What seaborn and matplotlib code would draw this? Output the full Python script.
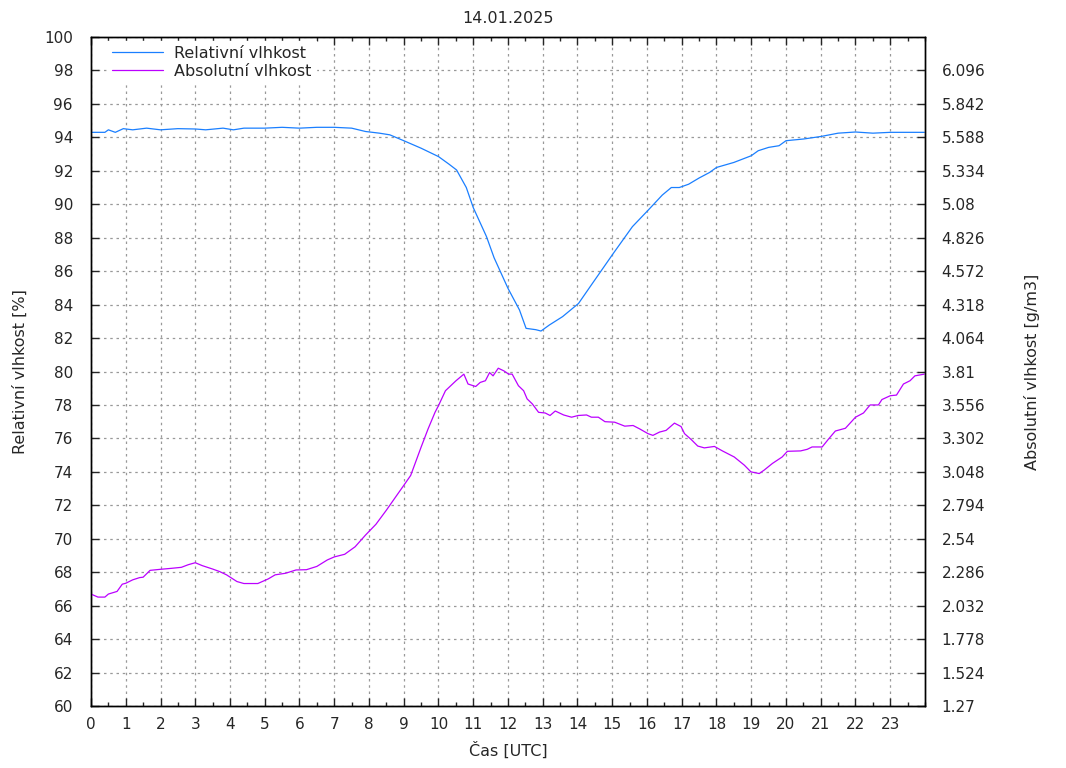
import numpy as np
import pandas as pd
import matplotlib
matplotlib.use("Agg")
import matplotlib.pyplot as plt
import seaborn as sns
from matplotlib.ticker import MultipleLocator, FixedLocator

# --- data -------------------------------------------------------------
rh_hours = [0.0, 0.4, 0.5, 0.7, 0.93, 1.2, 1.6, 2.0, 2.5, 3.0, 3.3, 3.8, 4.1, 4.4,
            5.0, 5.5, 6.0, 6.5, 7.0, 7.5, 7.9, 8.3, 8.6, 9.0, 9.5, 10.0, 10.3,
            10.52, 10.8, 11.0, 11.38, 11.6, 12.0, 12.33, 12.52, 12.8, 12.95,
            13.19, 13.57, 14.03, 14.43, 15.03, 15.58, 16.04, 16.44, 16.7, 16.93,
            17.2, 17.5, 17.8, 18.0, 18.5, 19.0, 19.2, 19.5, 19.8, 20.0, 20.5,
            21.0, 21.5, 22.0, 22.5, 23.0, 23.98]
rh_values = [94.3, 94.3, 94.45, 94.3, 94.52, 94.45, 94.55, 94.45, 94.52, 94.5,
             94.45, 94.55, 94.45, 94.55, 94.55, 94.6, 94.55, 94.6, 94.6, 94.55,
             94.35, 94.25, 94.15, 93.8, 93.35, 92.85, 92.4, 92.05, 91.0, 89.8,
             88.07, 86.8, 84.97, 83.68, 82.58, 82.5, 82.42, 82.78, 83.28, 84.07,
             85.27, 87.06, 88.66, 89.66, 90.55, 91.0, 91.0, 91.2, 91.57, 91.9,
             92.2, 92.5, 92.9, 93.2, 93.4, 93.5, 93.8, 93.9, 94.05, 94.25, 94.32,
             94.25, 94.3, 94.3]

ah_hours = [0.0, 0.2, 0.4, 0.5, 0.75, 0.9, 1.0, 1.2, 1.4, 1.5, 1.7, 2.0, 2.3, 2.6,
            2.8, 3.0, 3.2, 3.5, 3.7, 3.9, 4.2, 4.4, 4.8, 5.1, 5.3, 5.6, 5.9, 6.2,
            6.5, 6.8, 7.0, 7.3, 7.6, 7.9, 8.2, 8.5, 8.8, 9.0, 9.2, 9.5, 9.7, 9.9,
            10.0, 10.2, 10.5, 10.73, 10.85, 11.07, 11.2, 11.35, 11.47, 11.57,
            11.72, 11.88, 12.02, 12.12, 12.3, 12.45, 12.55, 12.7, 12.88, 13.07,
            13.21, 13.36, 13.6, 13.83, 14.02, 14.26, 14.4, 14.6, 14.79, 15.07,
            15.36, 15.6, 15.79, 16.03, 16.17, 16.36, 16.55, 16.79, 16.98, 17.08,
            17.27, 17.46, 17.65, 17.94, 18.17, 18.51, 18.8, 18.99, 19.23, 19.37,
            19.61, 19.89, 20.04, 20.42, 20.61, 20.75, 21.04, 21.23, 21.42, 21.71,
            22.0, 22.23, 22.42, 22.66, 22.76, 23.0, 23.18, 23.38, 23.57, 23.71,
            23.98]
# absolute humidity read on the left-axis scale (% units), converted to g/m3 below
ah_left_units = [66.69, 66.51, 66.51, 66.69, 66.85, 67.28, 67.34, 67.54, 67.68,
                 67.7, 68.11, 68.17, 68.23, 68.29, 68.45, 68.57, 68.39, 68.19,
                 68.04, 67.84, 67.44, 67.32, 67.32, 67.6, 67.84, 67.94, 68.13,
                 68.15, 68.35, 68.73, 68.91, 69.07, 69.52, 70.22, 70.87, 71.71,
                 72.6, 73.19, 73.79, 75.48, 76.57, 77.56, 77.96, 78.85, 79.44,
                 79.84, 79.25, 79.1, 79.35, 79.45, 79.94, 79.74, 80.2, 80.04,
                 79.84, 79.84, 79.15, 78.85, 78.36, 78.06, 77.56, 77.52, 77.37,
                 77.64, 77.4, 77.27, 77.37, 77.4, 77.27, 77.27, 77.0, 76.97,
                 76.73, 76.77, 76.57, 76.28, 76.18, 76.38, 76.48, 76.91, 76.71,
                 76.28, 75.94, 75.54, 75.43, 75.52, 75.25, 74.89, 74.4, 74.0,
                 73.9, 74.1, 74.5, 74.89, 75.23, 75.25, 75.35, 75.49, 75.49,
                 75.98, 76.44, 76.61, 77.27, 77.52, 78.0, 78.0, 78.32, 78.55,
                 78.59, 79.25, 79.45, 79.74, 79.84]
ah_values = [round(0.127 * v - 6.35, 3) for v in ah_left_units]

x_ticks = list(range(0, 24))
left_ticks = list(range(60, 101, 2))
right_ticks = [1.27, 1.524, 1.778, 2.032, 2.286, 2.54, 2.794, 3.048, 3.302, 3.556,
               3.81, 4.064, 4.318, 4.572, 4.826, 5.08, 5.334, 5.588, 5.842, 6.096]
right_labels = ["1.27", "1.524", "1.778", "2.032", "2.286", "2.54", "2.794", "3.048",
                "3.302", "3.556", "3.81", "4.064", "4.318", "4.572", "4.826", "5.08",
                "5.334", "5.588", "5.842", "6.096"]

title = "14.01.2025"
rh_name = "Relativní vlhkost"
ah_name = "Absolutní vlhkost"

# --- plot -------------------------------------------------------------
sns.set_style("white")
plt.rcParams["font.family"] = ["DejaVu Sans"]
plt.rcParams["font.size"] = 11

fig = plt.figure(figsize=(10.66, 7.68), dpi=100)
ax = fig.add_axes([91 / 1066, 1 - 706 / 768, (925 - 91) / 1066, (706 - 37) / 768])
ax2 = ax.twinx()

blue = "#1a7fff"
purple = "#bb00ff"

df_rh = pd.DataFrame({"h": rh_hours, "v": rh_values})
df_ah = pd.DataFrame({"h": ah_hours, "v": ah_values})
sns.lineplot(data=df_rh, x="h", y="v", ax=ax, color=blue, lw=0.9, label=rh_name)
sns.lineplot(data=df_ah, x="h", y="v", ax=ax2, color=purple, lw=0.9, label=ah_name)

ax.set_xlim(0, 24)
ax.set_ylim(60, 100)
ax2.set_ylim(1.27, 6.35)

ax.xaxis.set_major_locator(FixedLocator(x_ticks))
ax.xaxis.set_minor_locator(MultipleLocator(0.5))
ax.set_xticklabels([str(t) for t in x_ticks])
ax.yaxis.set_major_locator(FixedLocator(left_ticks))
ax.set_yticklabels([str(t) for t in left_ticks])
ax2.yaxis.set_major_locator(FixedLocator(right_ticks))
ax2.set_yticklabels(right_labels)

ax.tick_params(axis="x", which="major", direction="in", length=6, width=1,
               top=True, bottom=True, pad=8, labelsize=11)
ax.tick_params(axis="x", which="minor", direction="in", length=3, width=1,
               top=True, bottom=True)
ax.tick_params(axis="y", which="major", direction="in", length=6, width=1,
               left=True, right=False, pad=13, labelsize=11)
ax2.tick_params(axis="y", which="major", direction="in", length=6, width=1,
                right=True, pad=12, labelsize=11)

ax.grid(True, which="major", color="#999999", linestyle=(0, (2, 3)), lw=0.9)
for a in (ax, ax2):
    for s in a.spines.values():
        s.set_color("black")
        s.set_linewidth(1.0)

ax.set_xlabel("Čas [UTC]", fontsize=11.5, labelpad=7)
ax.set_ylabel("Relativní vlhkost [%]", fontsize=11.5, labelpad=12)
ax2.set_ylabel("Absolutní vlhkost [g/m3]", fontsize=11.5, labelpad=28)
ax.set_title(title, fontsize=11.5, pad=10)

h1, l1 = ax.get_legend_handles_labels()
h2, l2 = ax2.get_legend_handles_labels()
if ax2.get_legend():
    ax2.get_legend().remove()
leg = ax2.legend(h1 + h2, l1 + l2, loc="upper left", bbox_to_anchor=(0.019, 0.994),
                 frameon=True, fontsize=11.5, handlelength=3.2, handletextpad=0.7,
                 borderaxespad=0.0, labelspacing=0.2, borderpad=0.3)
leg.get_frame().set_edgecolor("white")
leg.get_frame().set_facecolor("white")
leg.get_frame().set_alpha(1)
leg.get_frame().set_boxstyle("square", pad=0)
if ax.get_legend():
    ax.get_legend().remove()

fig.savefig("out.png", dpi=100, facecolor="white")
